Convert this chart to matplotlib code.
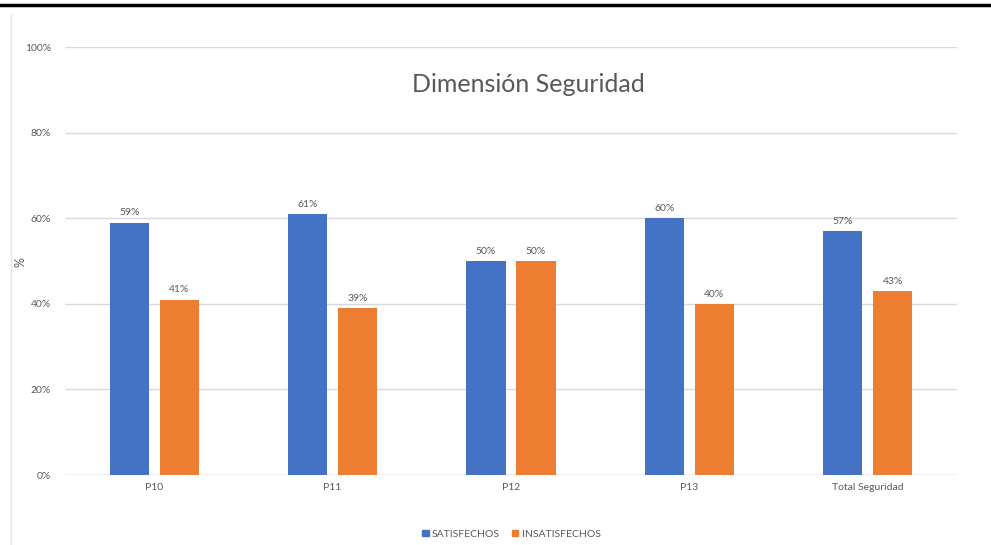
import numpy as np
import matplotlib.pyplot as plt
from matplotlib.lines import Line2D
from matplotlib.patches import Patch

categories = ["P10", "P11", "P12", "P13", "Total Seguridad"]
satisfechos = [59, 61, 50, 60, 57]
insatisfechos = [41, 39, 50, 40, 43]
yticks = [0, 20, 40, 60, 80, 100]

blue = "#4472c4"
orange = "#ed7d31"
grey_text = "#595959"
grid = "#d9d9d9"

plt.rcParams["font.family"] = ["Lato", "DejaVu Sans"]

fig = plt.figure(figsize=(9.91, 5.45), dpi=100)
ax = fig.add_axes([0.0656, 0.1284, 0.9001, 0.7853])

x = np.arange(len(categories))
w = 0.22
off = 0.14
b1 = ax.bar(x - off, satisfechos, w, color=blue, zorder=3)
b2 = ax.bar(x + off, insatisfechos, w, color=orange, zorder=3)

for bars, vals in ((b1, satisfechos), (b2, insatisfechos)):
    for r, v in zip(bars, vals):
        ax.text(r.get_x() + r.get_width() / 2, v + 1.2, f"{v}%",
                ha="center", va="bottom", fontsize=7.5, color=grey_text)

ax.set_xlim(-0.5, len(categories) - 0.5)
ax.set_ylim(0, 100)
ax.set_yticks(yticks)
ax.set_yticklabels([f"{t}%" for t in yticks])
ax.set_xticks(x)
ax.set_xticklabels(categories)
ax.tick_params(length=0, labelsize=7.5, labelcolor=grey_text)
ax.tick_params(axis="y", pad=10)
ax.tick_params(axis="x", pad=6)
ax.yaxis.grid(True, color=grid, linewidth=1, zorder=0)
for s in ax.spines.values():
    s.set_visible(False)
ax.axhline(0, color=grid, linewidth=1, zorder=2)

# axis label placed by hand, close to the tick labels
fig.text(0.021, 0.52, "%", rotation=90, ha="center", va="center",
         fontsize=9, color=grey_text)

fig.text(0.533, 0.845, "Dimensión Seguridad", ha="center", va="center",
         fontsize=18, color=grey_text)

handles = [Patch(color=blue), Patch(color=orange)]
fig.legend(handles, ["SATISFECHOS", "INSATISFECHOS"], loc="center",
           bbox_to_anchor=(0.516, 0.02), ncol=2, frameon=False, fontsize=7.5,
           handlelength=0.6, handleheight=0.6, handletextpad=0.3,
           columnspacing=1.2, labelcolor=grey_text)

# frame lines along the top and left edge
fig.add_artist(Line2D([0, 1], [0.990, 0.990], color="black", linewidth=2.5,
                      transform=fig.transFigure))
fig.add_artist(Line2D([0.011, 0.011], [0, 0.975], color="#e6e6e6",
                      linewidth=1, transform=fig.transFigure))

fig.savefig("out.png", dpi=100, facecolor="white")
